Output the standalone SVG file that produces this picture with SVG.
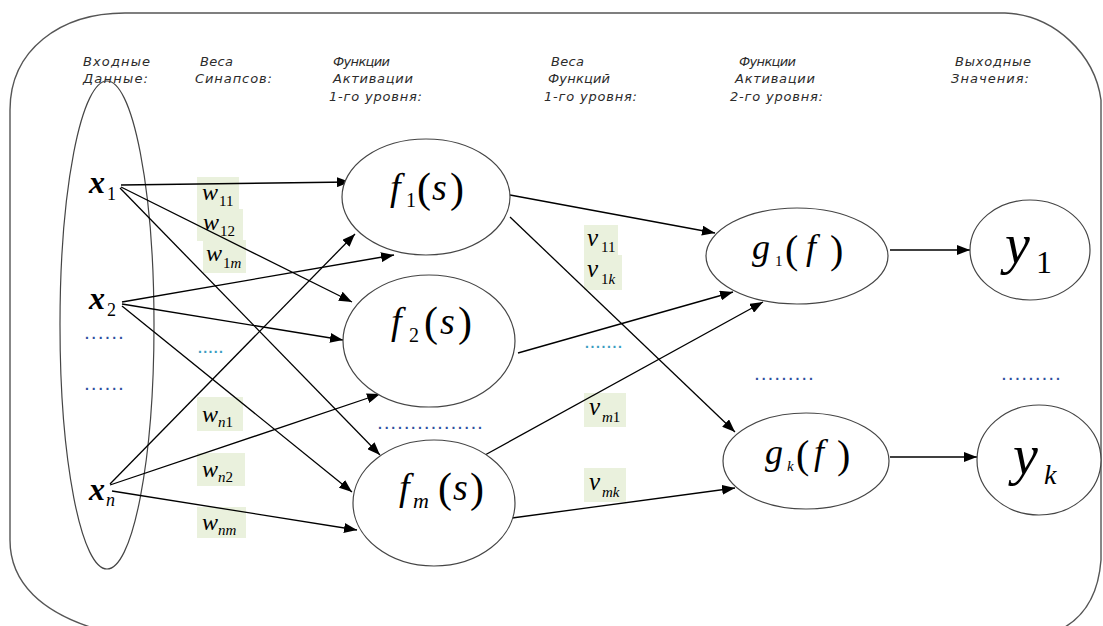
<svg xmlns="http://www.w3.org/2000/svg" width="1103" height="626" viewBox="0 0 1103 626">
  <style>
    .hdr { font-family: "DejaVu Sans", "Liberation Sans", sans-serif; font-style: italic; font-size: 13px; fill: #2b2b2b; }
    .m { font-family: "Liberation Serif", "Times New Roman", serif; fill: #000; }
    .i { font-style: italic; }
    .node { fill: #fff; stroke: #454545; stroke-width: 1.2; }
    .wbox { fill: #eaf1dd; stroke: none; }
    .edge { stroke: #000; stroke-width: 1.3; fill: none; marker-end: url(#arrow); }
    .dots { font-family: "Liberation Sans", sans-serif; font-size: 14px; font-weight: bold; fill: #2e4f9e; }
    .dots-c { font-family: "Liberation Sans", sans-serif; font-size: 14px; font-weight: bold; fill: #3a9cc0; }
  </style>
  <defs>
    <marker id="arrow" markerUnits="userSpaceOnUse" markerWidth="14" markerHeight="10" refX="13" refY="5" orient="auto">
      <path d="M0,0 L13,5 L0,10 Z" fill="#000"/>
    </marker>
  </defs>

  <rect width="1103" height="626" fill="#fff"/>

  <!-- outer frame -->
  <path d="M90,627 C45,612 10,585 10,540 L10,110 C10,50 60,13 125,13 L1005,13 C1055,15 1095,55 1101,100 L1101,560 C1098,600 1080,618 1065,627" fill="none" stroke="#555" stroke-width="1.4"/>

  <!-- column headings -->
  <g id="headings" class="hdr">
    <text x="83" y="66" textLength="67" lengthAdjust="spacing">Входные</text>
    <text x="83" y="83" textLength="65" lengthAdjust="spacing">Данные:</text>
    <text x="200" y="66" textLength="33" lengthAdjust="spacing">Веса</text>
    <text x="195" y="83" textLength="77" lengthAdjust="spacing">Синапсов:</text>
    <text x="333" y="66" textLength="57" lengthAdjust="spacing">Функции</text>
    <text x="333" y="83" textLength="80" lengthAdjust="spacing">Активации</text>
    <text x="329" y="101" textLength="93" lengthAdjust="spacing">1-го уровня:</text>
    <text x="551" y="66" textLength="33" lengthAdjust="spacing">Веса</text>
    <text x="548" y="83" textLength="62" lengthAdjust="spacing">Функций</text>
    <text x="544" y="101" textLength="93" lengthAdjust="spacing">1-го уровня:</text>
    <text x="739" y="66" textLength="57" lengthAdjust="spacing">Функции</text>
    <text x="735" y="83" textLength="80" lengthAdjust="spacing">Активации</text>
    <text x="730" y="101" textLength="93" lengthAdjust="spacing">2-го уровня:</text>
    <text x="955" y="66" textLength="76" lengthAdjust="spacing">Выходные</text>
    <text x="951" y="83" textLength="78" lengthAdjust="spacing">Значения:</text>
  </g>

  <!-- weight label backgrounds -->
  <g id="weight-boxes">
    <rect class="wbox" x="197" y="177" width="42" height="36"/>
    <rect class="wbox" x="197" y="209" width="46" height="32"/>
    <rect class="wbox" x="203" y="240" width="43" height="33"/>
    <rect class="wbox" x="197" y="397" width="46" height="34"/>
    <rect class="wbox" x="197" y="453" width="48" height="33"/>
    <rect class="wbox" x="197" y="507" width="49" height="31"/>
    <rect class="wbox" x="584" y="225" width="34" height="30"/>
    <rect class="wbox" x="584" y="255" width="38" height="35"/>
    <rect class="wbox" x="584" y="393" width="42" height="34"/>
    <rect class="wbox" x="584" y="468" width="42" height="34"/>
  </g>

  <!-- input set -->
  <g id="inputs">
    <ellipse cx="107" cy="325" rx="47" ry="244" fill="none" stroke="#454545" stroke-width="1.2"/>
    <text class="m"><tspan class="i" font-weight="bold" font-size="32" x="89" y="193">x</tspan><tspan font-size="18" x="107" y="200">1</tspan></text>
    <text class="m"><tspan class="i" font-weight="bold" font-size="32" x="89" y="309">x</tspan><tspan font-size="18" x="107" y="316">2</tspan></text>
    <text class="m"><tspan class="i" font-weight="bold" font-size="32" x="89" y="500">x</tspan><tspan class="i" font-size="18" x="106" y="506">n</tspan></text>
    <text class="dots" x="85" y="339" textLength="38" lengthAdjust="spacing">......</text>
    <text class="dots" x="85" y="390" textLength="38" lengthAdjust="spacing">......</text>
  </g>

  <!-- connectors -->
  <g id="connectors">
    <line class="edge" x1="121" y1="185" x2="350" y2="182"/>
    <line class="edge" x1="121" y1="187" x2="352" y2="302"/>
    <line class="edge" x1="120" y1="188" x2="380" y2="455"/>
    <line class="edge" x1="122" y1="302" x2="394" y2="255"/>
    <line class="edge" x1="122" y1="304" x2="343" y2="340"/>
    <line class="edge" x1="122" y1="306" x2="352" y2="492"/>
    <line class="edge" x1="110" y1="484" x2="355" y2="234"/>
    <line class="edge" x1="110" y1="485" x2="380" y2="394"/>
    <line class="edge" x1="112" y1="491" x2="357" y2="530"/>
    <line class="edge" x1="510" y1="195" x2="715" y2="233"/>
    <line class="edge" x1="510" y1="217" x2="735" y2="432"/>
    <line class="edge" x1="518" y1="353" x2="733" y2="292"/>
    <line class="edge" x1="485" y1="455" x2="763" y2="302"/>
    <line class="edge" x1="512" y1="518" x2="735" y2="488"/>
    <line class="edge" x1="890" y1="250" x2="970" y2="250"/>
    <line class="edge" x1="890" y1="457" x2="977" y2="457"/>
  </g>

  <!-- synapse weights -->
  <g id="weights" class="m">
    <text><tspan class="i" font-size="24" x="202" y="200">w</tspan><tspan font-size="15" x="219" y="206">11</tspan></text>
    <text><tspan class="i" font-size="24" x="203" y="230">w</tspan><tspan font-size="15" x="220" y="236">12</tspan></text>
    <text><tspan class="i" font-size="24" x="206" y="261">w</tspan><tspan font-size="15" x="223" y="268">1</tspan><tspan class="i" font-size="15">m</tspan></text>
    <text><tspan class="i" font-size="24" x="202" y="422">w</tspan><tspan class="i" font-size="15" x="218" y="427">n</tspan><tspan font-size="15">1</tspan></text>
    <text><tspan class="i" font-size="24" x="202" y="477">w</tspan><tspan class="i" font-size="15" x="218" y="482">n</tspan><tspan font-size="15">2</tspan></text>
    <text><tspan class="i" font-size="24" x="202" y="530">w</tspan><tspan class="i" font-size="15" x="218" y="535">nm</tspan></text>
    <text class="dots-c" x="198" y="353" textLength="25" lengthAdjust="spacing">.....</text>
  </g>

  <!-- first-level activation functions -->
  <g id="f1">
    <ellipse class="node" cx="426" cy="197" rx="84" ry="58"/>
    <text class="m"><tspan class="i" font-size="38" x="390" y="200">f</tspan><tspan font-size="20" x="406" y="207">1</tspan><tspan font-size="42" x="417" y="202">(</tspan><tspan class="i" font-size="38" x="432" y="200">s</tspan><tspan font-size="42" x="450" y="202">)</tspan></text>
  </g>
  <g id="f2">
    <ellipse class="node" cx="429" cy="341" rx="86" ry="66"/>
    <text class="m"><tspan class="i" font-size="38" x="391" y="334">f</tspan><tspan font-size="20" x="409" y="342">2</tspan><tspan font-size="42" x="424" y="336">(</tspan><tspan class="i" font-size="38" x="440" y="334">s</tspan><tspan font-size="42" x="458" y="336">)</tspan></text>
  </g>
  <g id="fm">
    <ellipse class="node" cx="434" cy="503" rx="81" ry="63"/>
    <text class="m"><tspan class="i" font-size="38" x="399" y="500">f</tspan><tspan class="i" font-size="22" x="413" y="508">m</tspan><tspan font-size="42" x="438" y="502">(</tspan><tspan class="i" font-size="38" x="453" y="500">s</tspan><tspan font-size="42" x="470" y="502">)</tspan></text>
    <text class="dots" x="378" y="429" textLength="104" lengthAdjust="spacing">................</text>
  </g>

  <!-- second-layer weights -->
  <g id="v-weights" class="m">
    <text><tspan class="i" font-size="25" x="587" y="246">v</tspan><tspan font-size="15" x="601" y="252">11</tspan></text>
    <text><tspan class="i" font-size="25" x="587" y="277">v</tspan><tspan font-size="15" x="601" y="284">1</tspan><tspan class="i" font-size="15">k</tspan></text>
    <text><tspan class="i" font-size="25" x="589" y="415">v</tspan><tspan class="i" font-size="15" x="602" y="422">m</tspan><tspan font-size="15">1</tspan></text>
    <text><tspan class="i" font-size="25" x="589" y="490">v</tspan><tspan class="i" font-size="15" x="602" y="497">mk</tspan></text>
    <text class="dots-c" x="585" y="348" textLength="37" lengthAdjust="spacing">.......</text>
  </g>

  <!-- second-level activation functions -->
  <g id="g1">
    <ellipse class="node" cx="797" cy="256" rx="91" ry="48"/>
    <text class="m"><tspan class="i" font-size="36" x="752" y="259">g</tspan><tspan font-size="15" x="775" y="266">1</tspan><tspan font-size="40" x="785" y="263">(</tspan><tspan class="i" font-size="36" x="806" y="259">f</tspan><tspan font-size="40" x="830" y="263">)</tspan></text>
  </g>
  <g id="gk">
    <ellipse class="node" cx="806" cy="461" rx="83" ry="48"/>
    <text class="m"><tspan class="i" font-size="36" x="765" y="464">g</tspan><tspan class="i" font-size="15" x="787" y="471">k</tspan><tspan font-size="40" x="796" y="468">(</tspan><tspan class="i" font-size="36" x="814" y="464">f</tspan><tspan font-size="40" x="837" y="468">)</tspan></text>
    <text class="dots" x="755" y="380" textLength="58" lengthAdjust="spacing">.........</text>
  </g>

  <!-- outputs -->
  <g id="y1">
    <ellipse class="node" cx="1030" cy="250" rx="60" ry="50"/>
    <text class="m"><tspan class="i" font-size="56" x="1005" y="263">y</tspan><tspan font-size="32" x="1036" y="273">1</tspan></text>
  </g>
  <g id="yk">
    <ellipse class="node" cx="1039" cy="460" rx="62" ry="55"/>
    <text class="m"><tspan class="i" font-size="56" x="1013" y="474">y</tspan><tspan class="i" font-size="28" x="1044" y="484">k</tspan></text>
    <text class="dots" x="1002" y="380" textLength="58" lengthAdjust="spacing">.........</text>
  </g>
</svg>
